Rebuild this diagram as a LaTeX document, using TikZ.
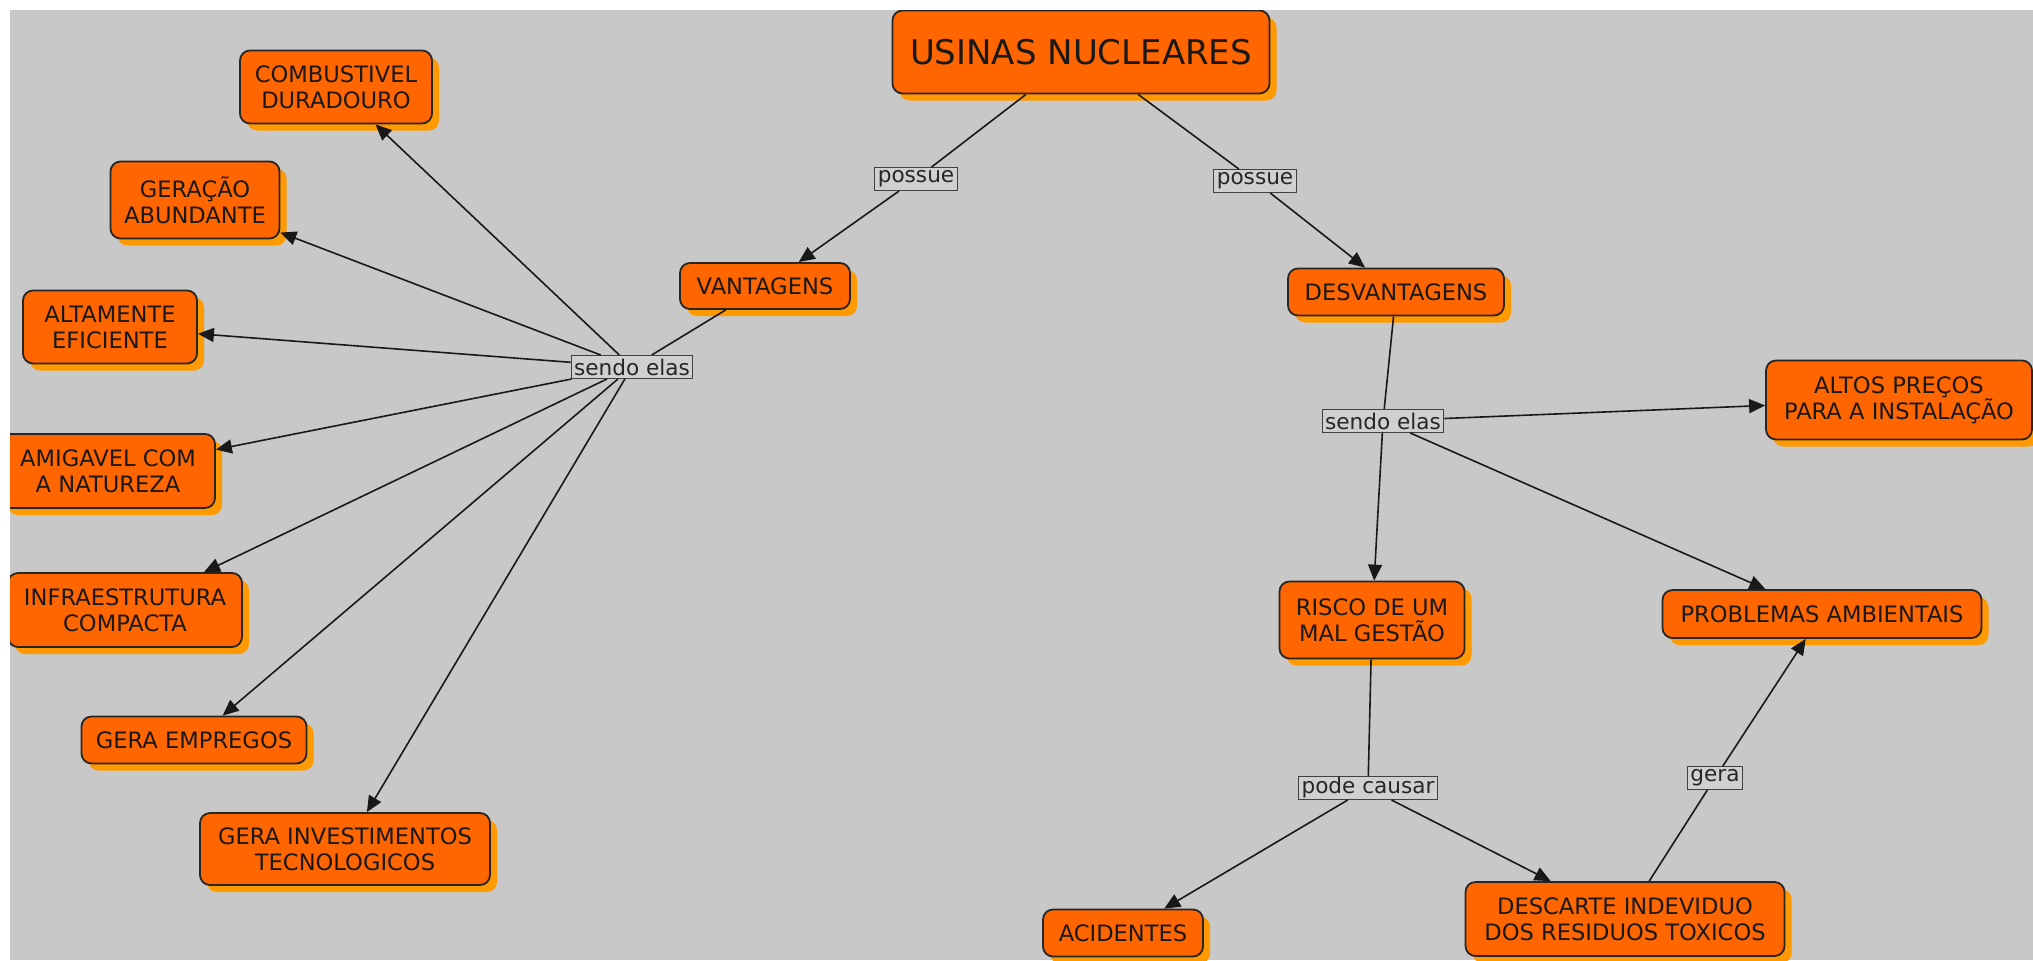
\documentclass[tikz,border=0pt]{standalone}
\usepackage{fontspec}
\setmainfont{DejaVu Sans}
\usetikzlibrary{shadows,arrows.meta}
\definecolor{mapgray}{HTML}{C8C8C8}
\definecolor{cmorange}{HTML}{FF6600}
\definecolor{cmshadow}{HTML}{FF9900}
\definecolor{labelgray}{HTML}{D0D0D0}

\begin{document}
\begin{tikzpicture}[x=0.5pt,y=-0.5pt,
    concept/.style={draw=black!85, line width=0.9pt, fill=cmorange, rounded corners=5pt,
        align=center, inner sep=2pt, text=black!90,
        font=\fontsize{11.3}{13}\selectfont,
        drop shadow={shadow xshift=3.5pt, shadow yshift=-3.5pt, fill=cmshadow, opacity=1}},
    linkword/.style={draw=black!75, line width=0.5pt, fill=labelgray, inner xsep=1.5pt,
        inner ysep=0pt, minimum height=11.5pt, text=black!85,
        font=\fontsize{10.8}{12}\selectfont},
    link/.style={line width=0.8pt, draw=black!90},
    arrowlink/.style={link, -{Triangle[length=8pt,width=7pt]}}]
    % Page and map area
    \useasboundingbox (0,0) rectangle (2033,960);
    \fill[white] (0,0) rectangle (2033,960);
    \begin{scope}
    \clip (10,10) rectangle (2033,960);
    \fill[mapgray] (10,10) rectangle (2033,960);
    % Main concept
    \node[concept, font=\fontsize{17}{20}\selectfont, minimum width=188.5pt, minimum height=41.5pt] (usinas) at (1081,52) {USINAS NUCLEARES};
    % Advantages
    \node[concept, minimum width=85pt, minimum height=23pt] (vant) at (765,286) {VANTAGENS};
    \node[concept, minimum width=96pt, minimum height=36.5pt] (comb) at (336,87) {COMBUSTIVEL\\DURADOURO};
    \node[concept, minimum width=84.5pt, minimum height=38.5pt] (gerac) at (195,200) {GERAÇÃO\\ABUNDANTE};
    \node[concept, minimum width=87pt, minimum height=36.5pt] (altam) at (110,327) {ALTAMENTE\\EFICIENTE};
    \node[concept, minimum width=107pt, minimum height=37pt] (amig) at (108,471) {AMIGAVEL COM\\A NATUREZA};
    \node[concept, minimum width=117pt, minimum height=37pt] (infra) at (125,610) {INFRAESTRUTURA\\COMPACTA};
    \node[concept, minimum width=112.5pt, minimum height=23.5pt] (empreg) at (194,740) {GERA EMPREGOS};
    \node[concept, minimum width=145pt, minimum height=36pt] (invest) at (345,849) {GERA INVESTIMENTOS\\TECNOLOGICOS};
    % Disadvantages
    \node[concept, minimum width=108pt, minimum height=23.5pt] (desv) at (1396,292) {DESVANTAGENS};
    \node[concept, minimum width=133pt, minimum height=39.5pt] (altos) at (1899,400) {ALTOS PREÇOS\\PARA A INSTALAÇÃO};
    \node[concept, minimum width=92.5pt, minimum height=38.5pt] (risco) at (1372,620) {RISCO DE UM\\MAL GESTÃO};
    \node[concept, minimum width=159.5pt, minimum height=24pt] (probl) at (1822,614) {PROBLEMAS AMBIENTAIS};
    \node[concept, minimum width=80pt, minimum height=23.5pt] (acid) at (1123,933) {ACIDENTES};
    \node[concept, minimum width=159.5pt, minimum height=37pt] (desc) at (1625,919) {DESCARTE INDEVIDUO\\DOS RESIDUOS TOXICOS};
    % Linking words
    \node[linkword] (possueL) at (916,179) {possue};
    \node[linkword] (possueR) at (1255,181) {possue};
    \node[linkword] (sendoL) at (632,367) {sendo elas};
    \node[linkword] (sendoR) at (1383,421) {sendo elas};
    \node[linkword] (podec) at (1368,788) {pode causar};
    \node[linkword] (gera) at (1715,778) {gera};
    % Connectors
    \draw[link] (usinas) -- (possueL);
    \draw[arrowlink] (possueL) -- (vant);
    \draw[link] (usinas) -- (possueR);
    \draw[arrowlink] (possueR) -- (desv);
    \draw[link] (vant) -- (sendoL);
    \foreach \n in {comb, gerac, altam, amig, infra, empreg, invest} {
        \draw[arrowlink] (sendoL) -- (\n);
    }
    \draw[link] (desv) -- (sendoR);
    \foreach \n in {altos, risco, probl} {
        \draw[arrowlink] (sendoR) -- (\n);
    }
    \draw[link] (risco) -- (podec);
    \draw[arrowlink] (podec) -- (acid);
    \draw[arrowlink] (podec) -- (desc);
    \draw[link] (desc) -- (gera);
    \draw[arrowlink] (gera) -- (probl);
    \end{scope}
\end{tikzpicture}
\end{document}
